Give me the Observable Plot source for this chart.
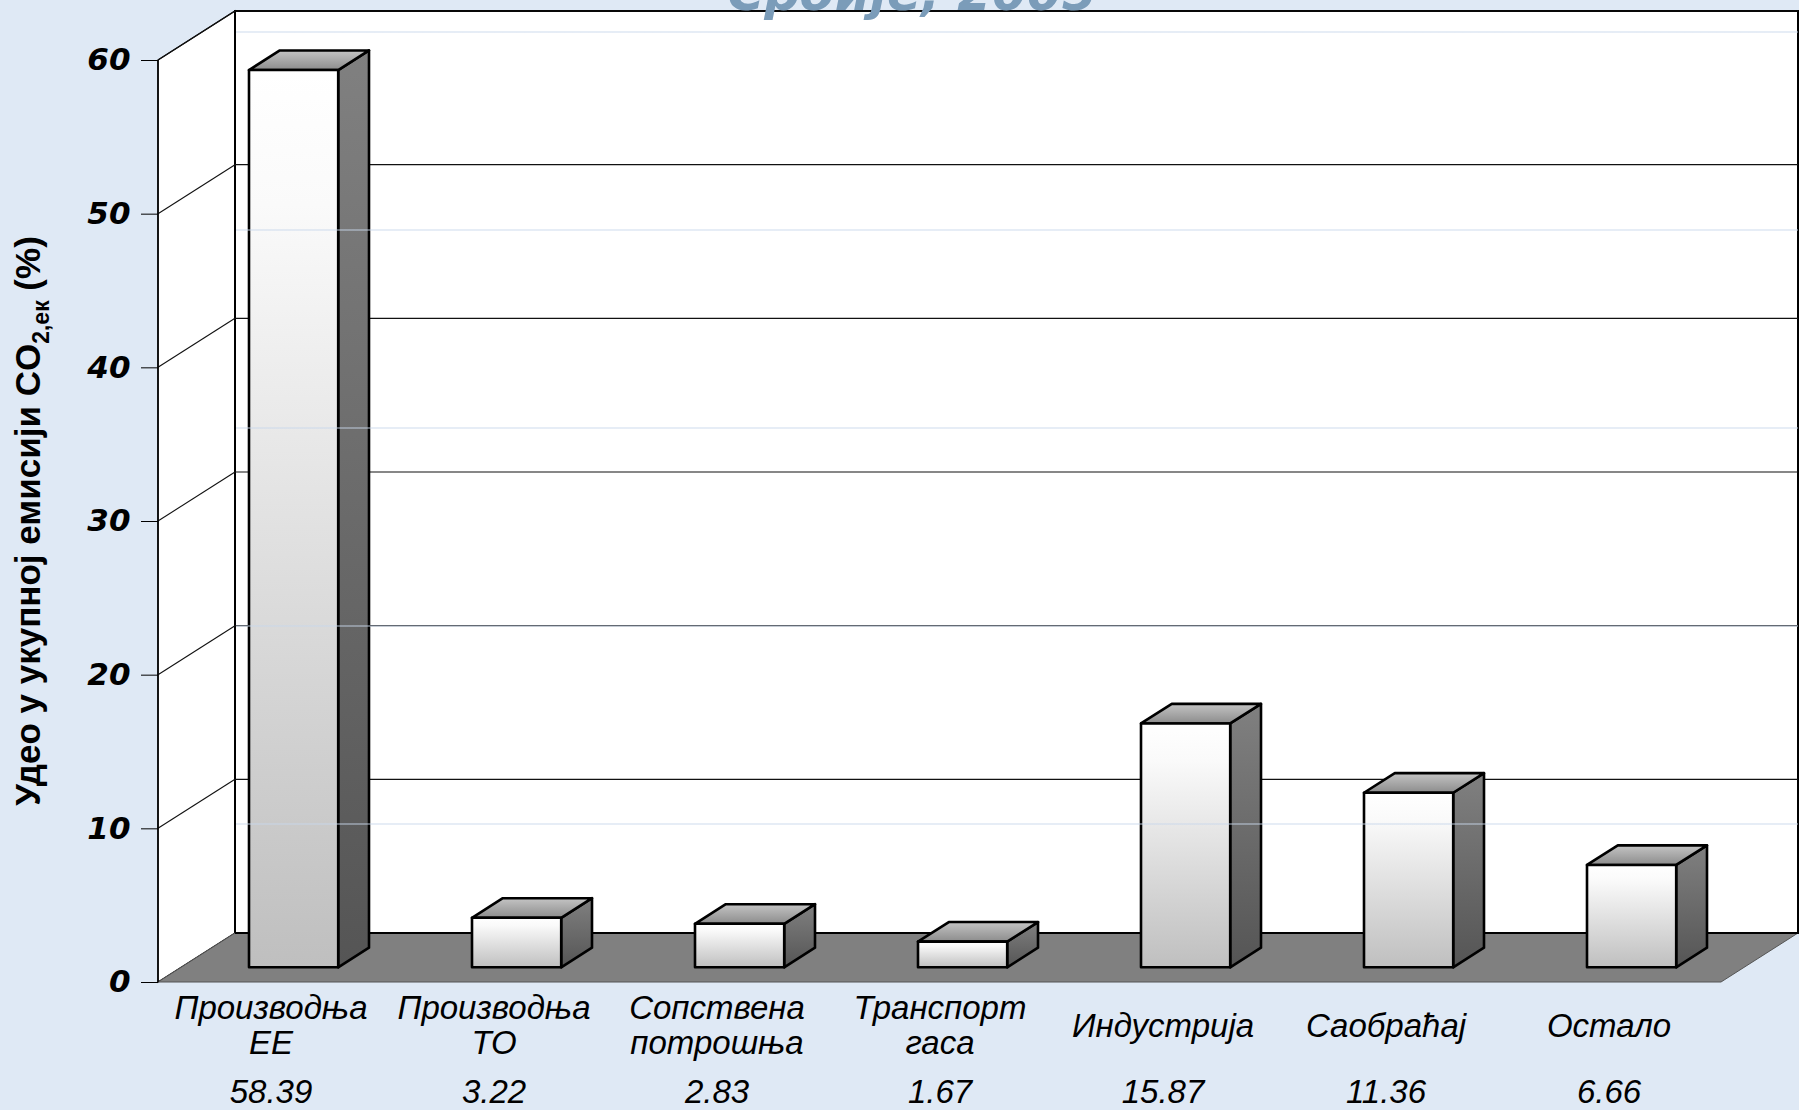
<!DOCTYPE html>
<html><head><meta charset="utf-8">
<script src="https://cdn.jsdelivr.net/npm/d3@7"></script>
<script src="https://cdn.jsdelivr.net/npm/@observablehq/plot@0.6"></script>
<style>
html,body{margin:0;padding:0;overflow:hidden;background:#dfe9f5;}
#wrap{position:relative;width:1799px;height:1110px;overflow:hidden;background:#dfe9f5;}
#chart{position:absolute;top:0;left:0;}
#stripes{position:absolute;top:0;left:236px;width:1562px;height:900px;pointer-events:none;
  background:repeating-linear-gradient(to bottom, rgba(0,0,0,0) 0px, rgba(0,0,0,0) 31px, rgba(200,215,235,0.45) 31px, rgba(200,215,235,0.45) 33px, rgba(0,0,0,0) 33px, rgba(0,0,0,0) 198px);}
#title{position:absolute;top:-32px;left:0;width:1824px;text-align:center;font:italic bold 50px "DejaVu Sans";line-height:50px;color:#7b9cb9;white-space:nowrap;}
g[aria-label^="y-axis"] text{font-family:"DejaVu Sans";font-weight:bold;font-style:oblique;font-size:31px;fill:#000;}
</style></head>
<body>
<div id="wrap"><div id="chart"></div><div id="stripes"></div><div id="title">Србије, 2005</div></div>
<script>
// ---- data ----
const categories = ["Производња ЕЕ","Производња ТО","Сопствена потрошња","Транспорт гаса","Индустрија","Саобраћај","Остало"];
const categoryLabels = ["Производња\nЕЕ","Производња\nТО","Сопствена\nпотрошња","Транспорт\nгаса","Индустрија","Саобраћај","Остало"];
const shares = [58.39, 3.22, 2.83, 1.67, 15.87, 11.36, 6.66];
const yTicks = [0, 10, 20, 30, 40, 50, 60];

// ---- pseudo-3D styling ----
const DX = 77, DY = -49;            // depth vector of the box (px)
const BAR_FRONT = 0.3, BAR_DEPTH = 0.4, BAR_WIDTH = 0.4;

function walls(index, scales, values, dims) {
  const {x, y} = scales;
  const [x0, x1] = x.range();
  const yb = y(0), yt = y(d3.max(yTicks));
  const g = d3.create("svg:g");
  g.append("path")
    .attr("d", `M${x0},${yt}L${x0+DX},${yt+DY}L${x0+DX},${yb+DY}L${x0},${yb}Z`)
    .attr("fill", "#fff").attr("stroke", "#000").attr("stroke-width", 1.3);
  g.append("rect")
    .attr("x", x0+DX).attr("y", yt+DY).attr("width", x1-x0).attr("height", yb-yt)
    .attr("fill", "#fff").attr("stroke", "#000").attr("stroke-width", 2);
  for (const t of yTicks) {
    if (t === 0) continue;
    const yy = y(t);
    g.append("line").attr("x1", x0+DX).attr("x2", x1+DX).attr("y1", yy+DY).attr("y2", yy+DY)
      .attr("stroke", "#111").attr("stroke-width", 1.1);
    g.append("line").attr("x1", x0).attr("x2", x0+DX).attr("y1", yy).attr("y2", yy+DY)
      .attr("stroke", "#111").attr("stroke-width", 1.1);
  }
  g.append("path")
    .attr("d", `M${x0},${yb}L${x1},${yb}L${x1+DX},${yb+DY}L${x0+DX},${yb+DY}Z`)
    .attr("fill", "#808080").attr("stroke", "#555").attr("stroke-width", 1);
  g.append("line").attr("x1", x0+DX).attr("x2", x1+DX).attr("y1", yb+DY).attr("y2", yb+DY)
    .attr("stroke", "#000").attr("stroke-width", 2);
  g.append("line").attr("x1", x0).attr("x2", x0).attr("y1", yt).attr("y2", yb)
    .attr("stroke", "#000").attr("stroke-width", 1.5);
  return g.node();
}

function bars(index, scales, values, dims) {
  const {x, y} = scales;
  const bw = x.bandwidth();
  const g = d3.create("svg:g");
  const defs = g.append("defs");
  const grad = (id, stops) => {
    const lg = defs.append("linearGradient").attr("id", id)
      .attr("x1", 0).attr("y1", 0).attr("x2", 0).attr("y2", 1);
    stops.forEach(([o, c]) => lg.append("stop").attr("offset", o).attr("stop-color", c));
  };
  grad("gFront", [[0, "#ffffff"], [0.15, "#fafafa"], [1, "#bfbfbf"]]);
  grad("gSide", [[0, "#808080"], [1, "#555555"]]);
  grad("gTop", [[0, "#c4c4c4"], [1, "#8c8c8c"]]);
  const tx = BAR_DEPTH*DX, ty = BAR_DEPTH*DY;
  categories.forEach((c, i) => {
    const left = x(c) + bw*(1-BAR_WIDTH)/2 + BAR_FRONT*DX;
    const right = left + bw*BAR_WIDTH;
    const base = y(0) + BAR_FRONT*DY;
    const top = y(shares[i]) + BAR_FRONT*DY;
    const s = {stroke: "#000", "stroke-width": 2.6, "stroke-linejoin": "round"};
    const side = g.append("path")
      .attr("d", `M${right},${top}L${right+tx},${top+ty}L${right+tx},${base+ty}L${right},${base}Z`)
      .attr("fill", "url(#gSide)");
    const topf = g.append("path")
      .attr("d", `M${left},${top}L${right},${top}L${right+tx},${top+ty}L${left+tx},${top+ty}Z`)
      .attr("fill", "url(#gTop)");
    const front = g.append("rect")
      .attr("x", left).attr("y", top).attr("width", right-left).attr("height", base-top)
      .attr("fill", "url(#gFront)");
    for (const el of [side, topf, front]) for (const k in s) el.attr(k, s[k]);
  });
  return g.node();
}

function yTitle(index, scales, values, dims) {
  const {y} = scales;
  const cy = (y(0) + y(d3.max(yTicks))) / 2;
  const t = d3.create("svg:text")
    .attr("transform", `translate(40,${cy}) rotate(-90)`)
    .attr("text-anchor", "middle")
    .attr("font-family", "Liberation Sans, Arial, sans-serif")
    .attr("font-weight", "bold").attr("font-size", 35).attr("fill", "#000");
  t.append("tspan").text("Удео у укупној емисији CO");
  t.append("tspan").attr("font-size", 23).attr("dy", 9).text("2,ек");
  t.append("tspan").attr("dy", -9).text(" (%)");
  return t.node();
}

const chart = Plot.plot({
  width: 1799,
  height: 1110,
  marginLeft: 158,
  marginRight: 78,
  marginTop: 60,
  marginBottom: 128,
  style: {background: "transparent", overflow: "visible"},
  x: {type: "band", domain: categories, padding: 0, axis: null},
  y: {domain: [0, 60], ticks: yTicks, tickSize: 17, tickPadding: 11, label: null, tickFormat: d => String(d)},
  marks: [
    walls,
    bars,
    Plot.text(categories, {
      x: d => d, text: (d, i) => categoryLabels[i], frameAnchor: "bottom", dy: 43,
      lineAnchor: "middle", lineHeight: 1.06, fontSize: 33, fontStyle: "italic",
      fontFamily: "Liberation Sans, Arial, sans-serif", fill: "#000"
    }),
    Plot.text(categories, {
      x: d => d, text: (d, i) => shares[i].toFixed(2), frameAnchor: "bottom", dy: 110,
      lineAnchor: "middle", fontSize: 33, fontStyle: "italic",
      fontFamily: "Liberation Sans, Arial, sans-serif", fill: "#000"
    }),
    yTitle
  ]
});
document.getElementById("chart").appendChild(chart);
</script>
</body></html>
